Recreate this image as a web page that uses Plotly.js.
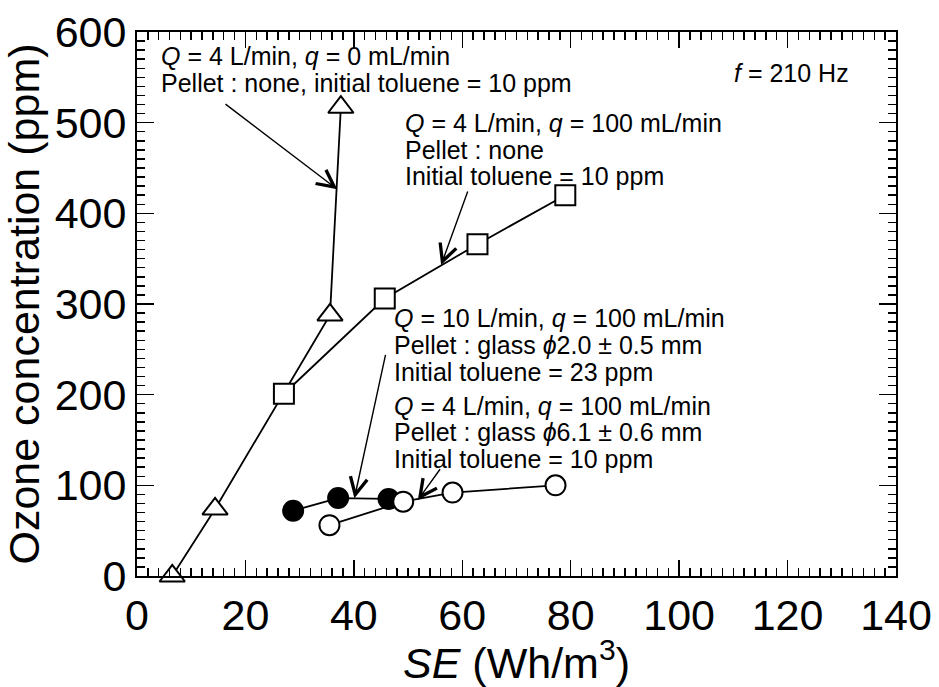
<!DOCTYPE html>
<html>
<head>
<meta charset="utf-8">
<script src="https://cdn.plot.ly/plotly-3.0.1.min.js"></script>
<style>html,body{margin:0;padding:0;background:#fff;}#chart{width:939px;height:687px;}</style>
</head>
<body>
<div id="chart"></div>
<script>
// ---- data ----
const seNoPelletQ0   = [6.5, 14.4, 35.6, 37.6];
const o3NoPelletQ0   = [0, 74, 288, 517];
const seNoPelletQ100 = [27.1, 45.7, 62.8, 79.0];
const o3NoPelletQ100 = [201, 306, 366, 420];
const seGlass20      = [28.8, 37.1, 46.4];
const o3Glass20      = [72, 86, 85];
const seGlass61      = [35.5, 49.1, 58.2, 77.2];
const o3Glass61      = [56, 82, 92, 100];

const xTickVals = [0, 20, 40, 60, 80, 100, 120, 140];
const yTickVals = [0, 100, 200, 300, 400, 500, 600];

const FONT = 'Arial, "Liberation Sans", sans-serif';

function series(x, y, symbol, fill) {
  return {
    x: x, y: y, type: 'scatter', mode: 'lines+markers', cliponaxis: false,
    line: {color: '#000', width: 1.8},
    marker: {symbol: symbol, size: symbol === 'triangle-up' ? 22 : 20, color: fill,
             line: {color: '#000', width: 2}},
    showlegend: false, hoverinfo: 'skip'
  };
}

const traces = [
  series(seNoPelletQ0, o3NoPelletQ0, 'triangle-up', '#fff'),
  series(seNoPelletQ100, o3NoPelletQ100, 'square', '#fff'),
  series(seGlass20, o3Glass20, 'circle', '#000'),
  series(seGlass61, o3Glass61, 'circle', '#fff')
];

// text blocks: [left px, center-y px, text]
const L = 137, R = 896, T = 32, B = 576;
function px2paperX(p) { return (p - L) / (R - L); }
function px2paperY(p) { return (B - p) / (B - T); }

const textLines = [
  [159, 56, '<i>Q</i> = 4 L/min, <i>q</i> = 0 mL/min'],
  [159, 83, 'Pellet : none, initial toluene = 10 ppm'],
  [403, 123, '<i>Q</i> = 4 L/min, <i>q</i> = 100 mL/min'],
  [403, 150, 'Pellet : none'],
  [403, 176, 'Initial toluene = 10 ppm'],
  [392, 318, '<i>Q</i> = 10 L/min, <i>q</i> = 100 mL/min'],
  [392, 345, 'Pellet : glass <i>ϕ</i>2.0 ± 0.5 mm'],
  [392, 372, 'Initial toluene = 23 ppm'],
  [392, 406, '<i>Q</i> = 4 L/min, <i>q</i> = 100 mL/min'],
  [392, 432, 'Pellet : glass <i>ϕ</i>6.1 ± 0.6 mm'],
  [392, 459, 'Initial toluene = 10 ppm'],
  [732, 73, '<i>f</i> = 210 Hz']
];

const annotations = textLines.map(t => ({
  xref: 'paper', yref: 'paper', x: px2paperX(t[0]), y: px2paperY(t[1]),
  xanchor: 'left', yanchor: 'middle', text: t[2], showarrow: false,
  font: {family: FONT, size: 25, color: '#000'}
}));

// arrows: [tailX, tailY, headX, headY] in data units
const arrows = [
  [16.05, 521.7, 36.95, 426.5],
  [61.1, 425.7, 56.1, 343],
  [45.9, 245.6, 40.1, 85.7],
  [56.1, 119.4, 51.8, 83.8]
];
arrows.forEach(a => annotations.push({
  xref: 'x', yref: 'y', axref: 'x', ayref: 'y',
  x: a[2], y: a[3], ax: a[0], ay: a[1], text: '',
  showarrow: true, arrowhead: 5, arrowsize: 2.4, arrowwidth: 1.4,
  arrowcolor: '#000', standoff: 0, startstandoff: 0
}));

const axisCommon = {
  ticks: 'inside', tickcolor: '#000', tickwidth: 1.5,
  showline: true, linecolor: '#000', linewidth: 2, mirror: 'ticks',
  showgrid: false, zeroline: false,
  tickfont: {family: FONT, size: 43, color: '#000'}
};

const layout = {
  width: 939, height: 687,
  margin: {l: 137, r: 43, t: 32, b: 111},
  paper_bgcolor: '#fff', plot_bgcolor: '#fff',
  font: {family: FONT, color: '#000'},
  xaxis: Object.assign({}, axisCommon, {
    range: [0, 140], tickmode: 'array', tickvals: xTickVals, ticklen: 16,
    minor: {ticks: 'inside', dtick: 2, tick0: 0, ticklen: 8, tickwidth: 1.5, tickcolor: '#000', showgrid: false},
    title: {text: '<i>SE</i> (Wh/m<sup>3</sup>)', font: {family: FONT, size: 43, color: '#000'}, standoff: 8}
  }),
  yaxis: Object.assign({}, axisCommon, {
    range: [0, 600], tickmode: 'array', tickvals: yTickVals, ticklen: 17,
    minor: {ticks: 'inside', dtick: 10, tick0: 0, ticklen: 8, tickwidth: 1.5, tickcolor: '#000', showgrid: false},
    title: {text: 'Ozone concentration (ppm)', font: {family: FONT, size: 43, color: '#000'}, standoff: 7}
  }),
  annotations: annotations
};

Plotly.newPlot('chart', traces, layout, {staticPlot: true});
</script>
</body>
</html>
